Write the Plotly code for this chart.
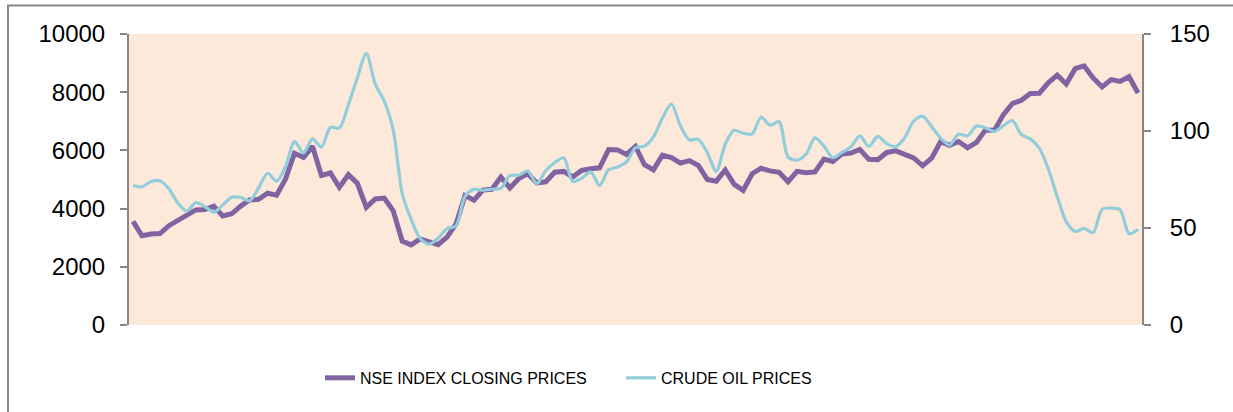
import plotly.graph_objects as go
import pandas as pd

# Monthly categories (Apr-2006 .. Aug-2015); not shown as tick labels
months = list(pd.date_range("2006-04-01", periods=113, freq="MS").strftime("%b-%y"))

nse_close = [3558, 3071, 3128, 3143, 3413, 3588, 3744, 3955, 3966,
             4083, 3745, 3822, 4087, 4296, 4318, 4529, 4464, 5021, 5901, 5762, 6139,
             5137, 5224, 4735, 5166, 4870, 4041, 4333, 4360, 3921, 2885, 2755, 2959,
             2874, 2763, 3021, 3474, 4449, 4291, 4636, 4662, 5084, 4712, 5033, 5201,
             4882, 4922, 5249, 5278, 5087, 5313, 5368, 5402, 6030, 6018, 5863, 6135,
             5506, 5333, 5834, 5750, 5561, 5647, 5482, 5001, 4943, 5326, 4832, 4624,
             5199, 5385, 5296, 5248, 4924, 5279, 5229, 5259, 5703, 5620, 5880, 5905,
             6035, 5693, 5683, 5930, 5986, 5842, 5742, 5471, 5735, 6299, 6176, 6304,
             6090, 6277, 6704, 6696, 7230, 7611, 7721, 7954, 7965, 8322, 8588, 8283,
             8809, 8902, 8491, 8182, 8434, 8369, 8533, 7971]

crude_price = [71.88, 71.29, 73.93, 74.40, 70.26, 62.91, 58.73, 63.13, 61.05,
               58.14, 61.79, 65.87, 65.71, 64.01, 70.68, 78.21, 74.04, 81.66, 94.53, 88.71, 95.98,
               91.75, 101.84, 101.58, 113.46, 127.35, 140.00, 124.08, 115.46, 100.64, 67.81, 54.43, 44.60,
               41.68, 44.76, 49.66, 51.12, 66.31, 69.89, 69.45, 69.96, 70.61, 77.00, 77.28, 79.36,
               72.89, 79.66, 83.76, 86.15, 73.97, 75.63, 78.95, 71.92, 79.97, 81.43, 84.11, 91.38,
               92.19, 96.97, 106.72, 113.93, 102.70, 95.42, 95.70, 88.81, 79.20, 93.19, 100.36, 98.83,
               98.48, 107.07, 103.02, 104.87, 86.53, 84.96, 88.06, 96.47, 92.19, 86.24, 88.91, 91.82,
               97.49, 92.05, 97.23, 93.46, 91.97, 96.56, 105.03, 107.65, 102.33, 96.38, 92.72, 98.42,
               97.49, 102.59, 101.58, 99.74, 102.71, 105.37, 98.17, 95.96, 91.16, 80.54, 66.15, 53.27,
               48.24, 49.76, 47.60, 59.63, 60.30, 59.47, 47.12, 49.20]

left_ticks = [0, 2000, 4000, 6000, 8000, 10000]
left_labels = ["0", "2000", "4000", "6000", "8000", "10000"]
right_ticks = [0, 50, 100, 150]
right_labels = ["0", "50", "100", "150"]

W, H = 1233, 412
PL, PR, PT, PB = 129, 1142, 33.5, 325  # plot area in px

def px_x(p):
    return (p - PL) / (PR - PL)

def px_y(p):
    return (PB - p) / (PB - PT)

fig = go.Figure()
fig.add_trace(go.Scatter(x=months, y=nse_close, name="NSE INDEX CLOSING PRICES",
                         mode="lines", line=dict(color="#8064A2", width=5)))
fig.add_trace(go.Scatter(x=months, y=crude_price, name="CRUDE OIL PRICES", yaxis="y2",
                         mode="lines", line=dict(color="#92CDDC", width=3.2, shape="spline", smoothing=0.8)))

n = len(months)
pad = 4 / ((1138 - 133) / (n - 1))
tickfont = dict(family="Liberation Sans, Arial, sans-serif", size=24, color="#000000")

fig.update_layout(
    width=W, height=H,
    margin=dict(l=PL, r=W - PR, t=PT, b=H - PB, pad=0),
    paper_bgcolor="white",
    plot_bgcolor="#FCE9DA",
    showlegend=True,
    legend=dict(orientation="h", x=px_x(320), y=px_y(378), xanchor="left", yanchor="middle",
                font=dict(family="Liberation Sans, Arial, sans-serif", size=16, color="#000000"),
                entrywidth=256, entrywidthmode="pixels", bgcolor="rgba(0,0,0,0)"),
    xaxis=dict(type="category", range=[-pad, n - 1 + pad], showticklabels=False, showgrid=False,
               zeroline=False, showline=False, ticks=""),
    yaxis=dict(range=[0, 10000], tickvals=left_ticks, ticktext=left_labels, showgrid=False, zeroline=False,
               showline=True, linecolor="#868686", linewidth=2, ticks="outside", ticklen=7,
               tickcolor="#868686", tickwidth=2, tickfont=tickfont, ticklabelstandoff=10),
    yaxis2=dict(range=[0, 150], tickvals=right_ticks, ticktext=right_labels, overlaying="y", side="right",
                showgrid=False, zeroline=False, showline=True, linecolor="#868686", linewidth=2,
                ticks="outside", ticklen=7, tickcolor="#868686", tickwidth=2, tickfont=tickfont,
                ticklabelstandoff=14),
    shapes=[dict(type="rect", xref="paper", yref="paper",
                 x0=px_x(8), x1=px_x(1245), y0=px_y(425), y1=px_y(5),
                 line=dict(color="#868686", width=2), fillcolor="rgba(0,0,0,0)", layer="below")],
)

fig.write_html("out.html", config={"displayModeBar": False},
               post_script="document.body.style.margin='0';")
